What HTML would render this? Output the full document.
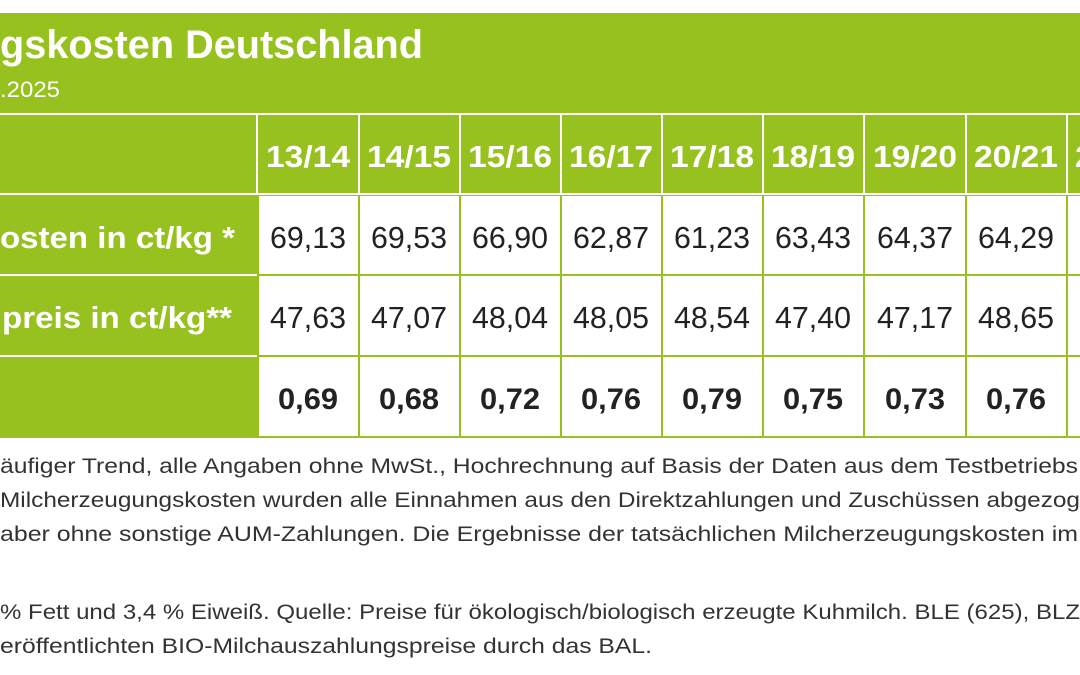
<!DOCTYPE html>
<html><head><meta charset="utf-8"><style>
html,body{margin:0;padding:0;background:#fff;width:1080px;height:675px;overflow:hidden}
svg{display:block}
text{font-family:"Liberation Sans",sans-serif}
</style></head><body>
<svg width="1080" height="675" viewBox="0 0 1080 675" xmlns="http://www.w3.org/2000/svg">
<rect x="0" y="0" width="1080" height="675" fill="#fff"/>
<rect x="0" y="13" width="1080" height="425" fill="#96c11f"/>
<rect x="0" y="113" width="1080" height="2" fill="#fff"/>
<rect x="259" y="196" width="821" height="240" fill="#fff"/>
<rect x="0" y="193" width="1080" height="2" fill="#fff"/>
<g fill="#fff">
<rect x="256" y="115" width="2" height="79"/>
<rect x="358" y="115" width="2" height="79"/>
<rect x="459" y="115" width="2" height="79"/>
<rect x="560" y="115" width="2" height="79"/>
<rect x="661" y="115" width="2" height="79"/>
<rect x="762" y="115" width="2" height="79"/>
<rect x="863" y="115" width="2" height="79"/>
<rect x="965" y="115" width="2" height="79"/>
<rect x="1066" y="115" width="2" height="79"/>
<rect x="0" y="274" width="257" height="2"/>
<rect x="0" y="355" width="257" height="2"/>
</g>
<g fill="#96c11f">
<rect x="358" y="195" width="2" height="242"/>
<rect x="459" y="195" width="2" height="242"/>
<rect x="560" y="195" width="2" height="242"/>
<rect x="661" y="195" width="2" height="242"/>
<rect x="762" y="195" width="2" height="242"/>
<rect x="863" y="195" width="2" height="242"/>
<rect x="965" y="195" width="2" height="242"/>
<rect x="1066" y="195" width="2" height="242"/>
<rect x="257" y="274" width="823" height="2"/>
<rect x="257" y="355" width="823" height="2"/>
</g>
<text x="0" y="58" fill="#fff" font-size="40" font-weight="bold" textLength="423" lengthAdjust="spacingAndGlyphs">gskosten Deutschland</text>
<text x="0" y="97" fill="#fff" font-size="22" textLength="60" lengthAdjust="spacingAndGlyphs">.2025</text>
<g fill="#fff" font-size="31" font-weight="bold" text-anchor="middle">
<text x="308" y="167" textLength="84" lengthAdjust="spacingAndGlyphs">13/14</text>
<text x="409" y="167" textLength="84" lengthAdjust="spacingAndGlyphs">14/15</text>
<text x="510" y="167" textLength="84" lengthAdjust="spacingAndGlyphs">15/16</text>
<text x="611" y="167" textLength="84" lengthAdjust="spacingAndGlyphs">16/17</text>
<text x="712" y="167" textLength="84" lengthAdjust="spacingAndGlyphs">17/18</text>
<text x="813" y="167" textLength="84" lengthAdjust="spacingAndGlyphs">18/19</text>
<text x="915" y="167" textLength="84" lengthAdjust="spacingAndGlyphs">19/20</text>
<text x="1016" y="167" textLength="84" lengthAdjust="spacingAndGlyphs">20/21</text>
<text x="1117" y="167" textLength="84" lengthAdjust="spacingAndGlyphs">21/22</text>
</g>
<g fill="#fff" font-size="31" font-weight="bold">
<text x="0" y="248" textLength="235" lengthAdjust="spacingAndGlyphs">osten in ct/kg *</text>
<text x="2" y="328" textLength="230" lengthAdjust="spacingAndGlyphs">preis in ct/kg**</text>
</g>
<g fill="#222" font-size="31" text-anchor="middle">
<text x="308" y="248" textLength="76" lengthAdjust="spacingAndGlyphs">69,13</text>
<text x="409" y="248" textLength="76" lengthAdjust="spacingAndGlyphs">69,53</text>
<text x="510" y="248" textLength="76" lengthAdjust="spacingAndGlyphs">66,90</text>
<text x="611" y="248" textLength="76" lengthAdjust="spacingAndGlyphs">62,87</text>
<text x="712" y="248" textLength="76" lengthAdjust="spacingAndGlyphs">61,23</text>
<text x="813" y="248" textLength="76" lengthAdjust="spacingAndGlyphs">63,43</text>
<text x="915" y="248" textLength="76" lengthAdjust="spacingAndGlyphs">64,37</text>
<text x="1016" y="248" textLength="76" lengthAdjust="spacingAndGlyphs">64,29</text>
<text x="308" y="328" textLength="76" lengthAdjust="spacingAndGlyphs">47,63</text>
<text x="409" y="328" textLength="76" lengthAdjust="spacingAndGlyphs">47,07</text>
<text x="510" y="328" textLength="76" lengthAdjust="spacingAndGlyphs">48,04</text>
<text x="611" y="328" textLength="76" lengthAdjust="spacingAndGlyphs">48,05</text>
<text x="712" y="328" textLength="76" lengthAdjust="spacingAndGlyphs">48,54</text>
<text x="813" y="328" textLength="76" lengthAdjust="spacingAndGlyphs">47,40</text>
<text x="915" y="328" textLength="76" lengthAdjust="spacingAndGlyphs">47,17</text>
<text x="1016" y="328" textLength="76" lengthAdjust="spacingAndGlyphs">48,65</text>
</g>
<g fill="#222" font-size="30" font-weight="bold" text-anchor="middle">
<text x="308" y="409" textLength="60" lengthAdjust="spacingAndGlyphs">0,69</text>
<text x="409" y="409" textLength="60" lengthAdjust="spacingAndGlyphs">0,68</text>
<text x="510" y="409" textLength="60" lengthAdjust="spacingAndGlyphs">0,72</text>
<text x="611" y="409" textLength="60" lengthAdjust="spacingAndGlyphs">0,76</text>
<text x="712" y="409" textLength="60" lengthAdjust="spacingAndGlyphs">0,79</text>
<text x="813" y="409" textLength="60" lengthAdjust="spacingAndGlyphs">0,75</text>
<text x="915" y="409" textLength="60" lengthAdjust="spacingAndGlyphs">0,73</text>
<text x="1016" y="409" textLength="60" lengthAdjust="spacingAndGlyphs">0,76</text>
</g>
<g fill="#333" font-size="21">
<text x="0" y="473" textLength="1078" lengthAdjust="spacingAndGlyphs">äufiger Trend, alle Angaben ohne MwSt., Hochrechnung auf Basis der Daten aus dem Testbetriebs</text>
<text x="0" y="507" textLength="1080" lengthAdjust="spacingAndGlyphs">Milcherzeugungskosten wurden alle Einnahmen aus den Direktzahlungen und Zuschüssen abgezog</text>
<text x="0" y="541" textLength="1078" lengthAdjust="spacingAndGlyphs">aber ohne sonstige AUM-Zahlungen. Die Ergebnisse der tatsächlichen Milcherzeugungskosten im</text>
<text x="0" y="619" textLength="1080" lengthAdjust="spacingAndGlyphs">% Fett und 3,4 % Eiweiß. Quelle: Preise für ökologisch/biologisch erzeugte Kuhmilch. BLE (625), BLZ</text>
<text x="0" y="653" textLength="652" lengthAdjust="spacingAndGlyphs">eröffentlichten BIO-Milchauszahlungspreise durch das BAL.</text>
</g>
</svg>
</body></html>
